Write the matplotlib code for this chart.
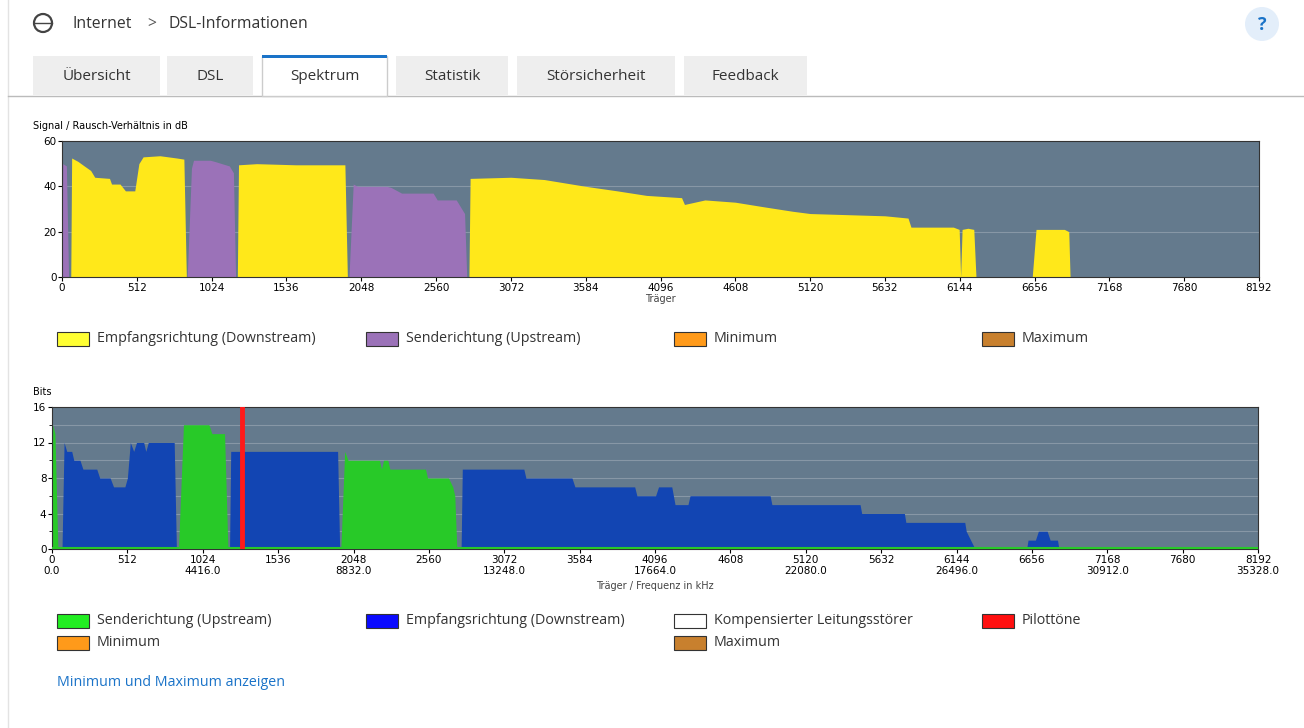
import matplotlib.pyplot as plt
from matplotlib.patches import Rectangle, Circle
from matplotlib.ticker import MultipleLocator

# ---- SNR data (carrier, dB) ----
snr_up1_x = [0, 5, 30, 45]
snr_up1_y = [0, 50, 49, 0]
snr_dn1_x = [60, 66, 109, 152, 196, 224, 325, 339, 397, 434, 498, 526, 555, 670, 785, 834, 851]
snr_dn1_y = [0, 52.5, 51, 49, 47, 44, 43.5, 41, 41, 38, 38, 50, 53, 53.5, 52.5, 52, 0]
snr_up2_x = [857, 886, 900, 1015, 1044, 1145, 1173, 1188]
snr_up2_y = [0, 48, 51.5, 51.5, 51, 49, 46, 0]
snr_dn2_x = [1200, 1208, 1332, 1600, 1936, 1953]
snr_dn2_y = [0, 49.5, 50, 49.5, 49.5, 0]
snr_up3_x = [1964, 1993, 2022, 2223, 2252, 2324, 2540, 2568, 2698, 2755, 2770]
snr_up3_y = [0, 41, 40, 40, 39.5, 37, 37, 34, 34, 28, 0]
snr_dn3_x = [2785, 2793, 3072, 3300, 3584, 3800, 4000, 4240, 4260, 4400, 4608, 4800, 5000,
             5120, 5632, 5790, 5810, 6100, 6140, 6150, 6160, 6200, 6240, 6255]
snr_dn3_y = [0, 43.5, 44, 43, 40, 38, 36, 35, 32, 34, 33, 31, 29,
             28, 27, 26, 22, 22, 21, 0, 21, 21.5, 21, 0]
snr_dn4_x = [6640, 6666, 6860, 6890, 6899]
snr_dn4_y = [0, 21, 21, 20, 0]

# ---- bits data (carrier, bits) ----
bit_up1_x = [0, 5, 20, 40]
bit_up1_y = [0, 14, 13, 0]
bit_dn1_x = [68, 82, 100, 134, 148, 190, 210, 304, 324, 395, 418, 495, 512, 532, 555, 574,
             623, 637, 654, 830, 845]
bit_dn1_y = [0, 12, 11, 11, 10, 10, 9, 9, 8, 8, 7, 7, 8, 12, 11, 12, 12, 11, 12, 12, 0]
bit_up2_x = [859, 893, 1066, 1086, 1172, 1195]
bit_up2_y = [0, 14, 14, 13, 13, 0]
bit_dn2_x = [1206, 1214, 1940, 1954]
bit_dn2_y = [0, 11, 11, 0]
bit_up3_x = [1962, 1988, 2011, 2224, 2238, 2252, 2281, 2295, 2537, 2551, 2693, 2722, 2736, 2750]
bit_up3_y = [0, 11, 10, 10, 9, 10, 10, 9, 9, 8, 8, 7, 6, 0]
bit_dn3_x = [2779, 2787, 3205, 3219, 3532, 3552, 3958, 3973, 4100, 4120, 4210, 4232, 4320,
             4334, 4878, 4890, 5489, 5500, 5790, 5800, 6200, 6210, 6270]
bit_dn3_y = [0, 9, 9, 8, 8, 7, 7, 6, 6, 7, 7, 5, 5,
             6, 6, 5, 5, 4, 4, 3, 3, 2, 0]
bit_dn4_x = [6620, 6630, 6680, 6700, 6760, 6780, 6830, 6840]
bit_dn4_y = [0, 1, 1, 2, 2, 1, 1, 0]
pilot_carrier = 1291

freq_ticks = [0, 1024, 2048, 3072, 4096, 5120, 6144, 7168, 8192]
freq_labels = ['0.0', '4416.0', '8832.0', '13248.0', '17664.0', '22080.0', '26496.0', '30912.0', '35328.0']

W, H = 1304, 728
BG = '#647a8d'
YEL, PUR = '#ffe81a', '#9b72b8'
GRN, BLU = '#28c928', '#1245b3'
UI_FONT = ['Open Sans', 'DejaVu Sans']
FS = 10.3

fig = plt.figure(figsize=(W / 100, H / 100), dpi=100)
ui = fig.add_axes([0, 0, 1, 1])
ui.set_xlim(0, W)
ui.set_ylim(H, 0)
ui.axis('off')


def px_axes(l, t, r, b):
    return fig.add_axes([l / W, 1 - b / H, (r - l) / W, (b - t) / H])


# page header
ui.plot([8, 8], [0, H], color='#e3e3e3', lw=1)
ui.add_patch(Circle((43, 23), 9, fc='none', ec='#444', lw=1.6))
ui.plot([34, 52], [23, 23], color='#444', lw=1)
ui.text(72, 24, 'Internet', fontsize=FS + 1, va='center', color='#333', family=UI_FONT)
ui.text(147, 24, '>', fontsize=FS + 1, va='center', color='#555', family=UI_FONT)
ui.text(168, 24, 'DSL-Informationen', fontsize=FS + 1, va='center', color='#333', family=UI_FONT)
ui.add_patch(Circle((1262, 24), 17, fc='#e3eefa', ec='none'))
ui.text(1262, 25, '?', fontsize=13, ha='center', va='center', color='#1a73c8',
        weight='bold', family=UI_FONT)

tabs = [('Übersicht', 33, 160), ('DSL', 167, 253), ('Spektrum', 262, 387),
        ('Statistik', 396, 508), ('Störsicherheit', 517, 675), ('Feedback', 684, 807)]
ui.plot([8, W], [95.5, 95.5], color='#bbb', lw=1)
for name, l, r in tabs:
    active = name == 'Spektrum'
    ui.add_patch(Rectangle((l, 56), r - l, 40 if active else 39,
                           fc='white' if active else '#eeeeee',
                           ec='#cccccc' if active else 'none', lw=1, zorder=2))
    if active:
        ui.add_patch(Rectangle((l, 55), r - l, 3, fc='#1a73c8', ec='none', zorder=3))
    ui.text((l + r) / 2, 77, name, fontsize=FS + 0.7, ha='center', va='center', color='#333',
            family=UI_FONT, zorder=4)


def style(ax, ymax, ystep):
    ax.set_facecolor(BG)
    ax.set_xlim(0, 8192)
    ax.set_ylim(0, ymax)
    ax.set_xticks(freq_ticks + [512, 1536, 2560, 3584, 4608, 5632, 6656, 7680])
    ax.set_yticks(range(0, ymax + 1, ystep))
    ax.tick_params(labelsize=7.5, length=3, pad=1)
    for s in ax.spines.values():
        s.set_color('#333')


# SNR chart
ax1 = px_axes(62, 141, 1259, 277)
style(ax1, 60, 20)
for y in (20, 40):
    ax1.axhline(y, color='#8797a6', lw=0.8, zorder=0)
for xs, ys, c in [(snr_up1_x, snr_up1_y, PUR), (snr_dn1_x, snr_dn1_y, YEL),
                  (snr_up2_x, snr_up2_y, PUR), (snr_dn2_x, snr_dn2_y, YEL),
                  (snr_up3_x, snr_up3_y, PUR), (snr_dn3_x, snr_dn3_y, YEL),
                  (snr_dn4_x, snr_dn4_y, YEL)]:
    ax1.fill_between(xs, ys, color=c, lw=0, zorder=2)
ax1.set_xlabel('Träger', fontsize=7, labelpad=1, color='#444')
fig.text(33 / W, 1 - 126 / H, 'Signal / Rausch-Verhältnis in dB', fontsize=7, va='center')

# Bits chart
ax2 = px_axes(52, 407, 1258, 549)
style(ax2, 16, 4)
ax2.yaxis.set_minor_locator(MultipleLocator(2))
for y in range(2, 16, 2):
    ax2.axhline(y, color='#8797a6', lw=0.8, zorder=0)
for xs, ys, c in [(bit_up1_x, bit_up1_y, GRN), (bit_dn1_x, bit_dn1_y, BLU),
                  (bit_up2_x, bit_up2_y, GRN), (bit_dn2_x, bit_dn2_y, BLU),
                  (bit_up3_x, bit_up3_y, GRN), (bit_dn3_x, bit_dn3_y, BLU),
                  (bit_dn4_x, bit_dn4_y, BLU)]:
    ax2.fill_between(xs, ys, color=c, lw=0, zorder=2)
ax2.axhline(0.1, color=GRN, lw=1.5, zorder=3)
ax2.axvline(pilot_carrier, color='#ff1a1a', lw=3.5, zorder=4)
for t, lab in zip(freq_ticks, freq_labels):
    ax2.text(t, -1.9, lab, fontsize=7.5, ha='center', va='top', transform=ax2.transData)
ax2.set_xlabel('Träger / Frequenz in kHz', fontsize=7, labelpad=12, color='#444')
fig.text(33 / W, 1 - 392 / H, 'Bits', fontsize=7, va='center')

# legends
legend_items = [
    (57, 339, '#ffff33', 'Empfangsrichtung (Downstream)'),
    (366, 339, PUR, 'Senderichtung (Upstream)'),
    (674, 339, '#ff9a1a', 'Minimum'),
    (982, 339, '#c8802e', 'Maximum'),
    (57, 621, '#22ee22', 'Senderichtung (Upstream)'),
    (366, 621, '#0a0aff', 'Empfangsrichtung (Downstream)'),
    (674, 621, 'white', 'Kompensierter Leitungsstörer'),
    (982, 621, '#ff1010', 'Pilottöne'),
    (57, 643, '#ff9a1a', 'Minimum'),
    (674, 643, '#c8802e', 'Maximum'),
]
for x, y, c, lab in legend_items:
    ui.add_patch(Rectangle((x, y - 7), 32, 14, fc=c, ec='#333', lw=0.8))
    ui.text(x + 40, y, lab, fontsize=FS, va='center', color='#333', family=UI_FONT)

ui.text(57, 683, 'Minimum und Maximum anzeigen', fontsize=FS, va='center',
        color='#1a73c8', family=UI_FONT)

fig.savefig('out.png', dpi=100)
